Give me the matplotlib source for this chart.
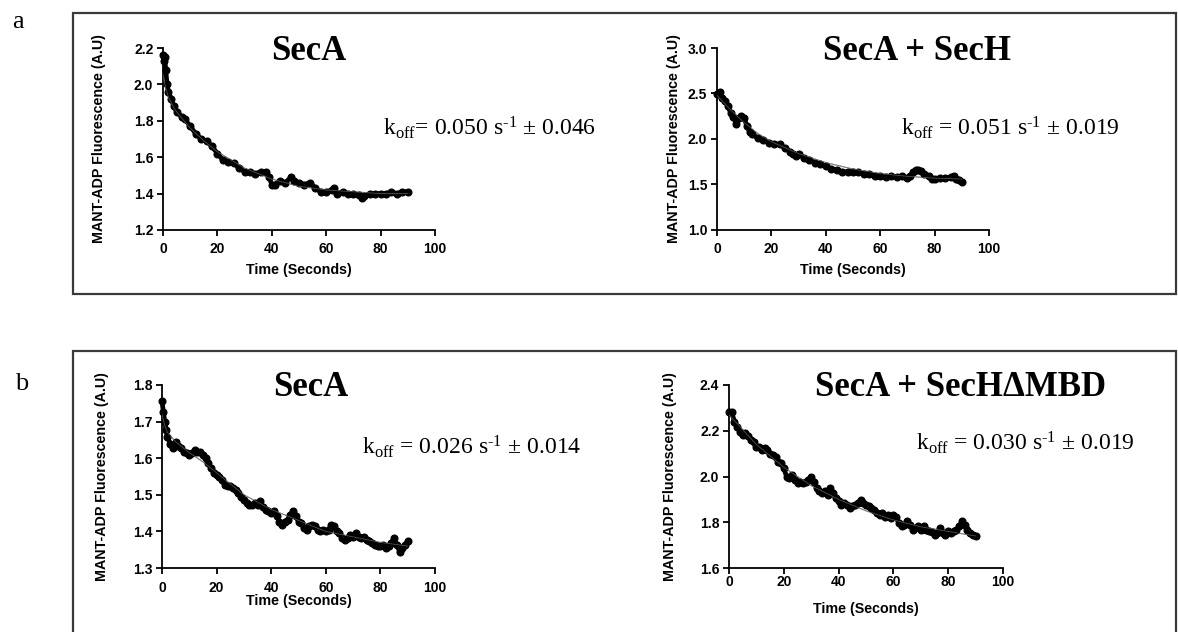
import matplotlib.pyplot as plt
from matplotlib.patches import Rectangle

plt.rcParams['mathtext.fontset'] = 'custom'
plt.rcParams['mathtext.rm'] = 'Liberation Serif'
plt.rcParams['mathtext.it'] = 'Liberation Serif:italic'

W, H = 1178, 632

# --- panel a: SecA alone
t_a1 = [0, 0.3, 0.6, 1, 1.5, 2, 3, 4, 5, 7, 8, 10, 12, 14, 16, 18, 20, 22, 24, 26,
        28, 30, 32, 34, 36, 38, 39, 40, 41, 43, 45, 47, 48, 50, 52, 54, 56, 58, 60,
        62, 63, 64, 66, 68, 70, 72, 73, 74, 76, 78, 80, 82, 84, 86, 88, 90]
y_a1 = [2.16, 2.13, 2.15, 2.08, 2.00, 1.96, 1.92, 1.88, 1.85, 1.82, 1.81, 1.77, 1.73,
        1.70, 1.69, 1.66, 1.62, 1.585, 1.575, 1.57, 1.54, 1.52, 1.52, 1.51, 1.52, 1.52,
        1.49, 1.45, 1.45, 1.47, 1.46, 1.49, 1.47, 1.46, 1.45, 1.46, 1.43, 1.41, 1.41,
        1.42, 1.43, 1.40, 1.41, 1.40, 1.40, 1.39, 1.375, 1.385, 1.40, 1.40, 1.40, 1.40,
        1.41, 1.40, 1.41, 1.41]
fit_t_a1 = [0, 1, 2, 4, 6, 10, 15, 20, 30, 40, 50, 60, 70, 80, 90]
fit_y_a1 = [2.05, 1.98, 1.93, 1.87, 1.83, 1.76, 1.69, 1.63, 1.54, 1.48, 1.44, 1.42, 1.41, 1.40, 1.40]

# --- panel a: SecA + SecH
t_a2 = [0, 1, 2, 3, 4, 5, 6, 7, 8, 9, 10, 11, 12, 13, 15, 17, 19, 21, 23, 25, 27, 28,
        29, 30, 32, 34, 36, 38, 40, 42, 44, 46, 48, 50, 52, 54, 56, 58, 60, 62, 64, 66,
        68, 70, 71, 72, 73, 74, 75, 76, 78, 79, 80, 82, 84, 86, 87, 88, 89, 90]
y_a2 = [2.49, 2.52, 2.45, 2.42, 2.36, 2.29, 2.24, 2.17, 2.23, 2.25, 2.23, 2.14, 2.08,
        2.05, 2.01, 1.99, 1.96, 1.95, 1.94, 1.90, 1.86, 1.83, 1.81, 1.84, 1.79, 1.77,
        1.74, 1.72, 1.70, 1.67, 1.66, 1.64, 1.64, 1.64, 1.64, 1.61, 1.61, 1.59, 1.59,
        1.58, 1.59, 1.58, 1.59, 1.57, 1.59, 1.64, 1.66, 1.66, 1.65, 1.62, 1.59, 1.56,
        1.56, 1.57, 1.57, 1.58, 1.59, 1.56, 1.55, 1.53]
fit_t_a2 = [0, 5, 10, 15, 20, 30, 40, 50, 60, 70, 80, 90]
fit_y_a2 = [2.48, 2.32, 2.18, 2.06, 1.97, 1.84, 1.74, 1.67, 1.62, 1.59, 1.57, 1.56]

# --- panel b: SecA alone
t_b1 = [0, 0.5, 1, 1.5, 2] + list(range(3, 91))
y_b1 = [1.755, 1.727, 1.70, 1.677, 1.659,
        1.64, 1.627, 1.645, 1.632, 1.627, 1.618, 1.614, 1.609, 1.614, 1.623,
        1.618, 1.618, 1.609, 1.60, 1.586, 1.573, 1.559, 1.555, 1.55, 1.541,
        1.527, 1.523, 1.523, 1.518, 1.514, 1.505, 1.495, 1.486, 1.477, 1.473,
        1.473, 1.477, 1.473, 1.482, 1.468, 1.459, 1.455, 1.45, 1.455, 1.441,
        1.427, 1.418, 1.427, 1.432, 1.445, 1.455, 1.441, 1.427, 1.423, 1.409,
        1.405, 1.414, 1.418, 1.414, 1.405, 1.40, 1.405, 1.40, 1.405, 1.418,
        1.414, 1.40, 1.395, 1.382, 1.377, 1.382, 1.391, 1.386, 1.395, 1.386,
        1.382, 1.386, 1.377, 1.373, 1.368, 1.364, 1.359, 1.359, 1.364, 1.355,
        1.359, 1.368, 1.382, 1.364, 1.345, 1.355, 1.364, 1.373]
fit_t_b1 = [0, 1, 2, 5, 10, 15, 20, 30, 40, 50, 60, 70, 80, 90]
fit_y_b1 = [1.72, 1.69, 1.67, 1.645, 1.615, 1.59, 1.56, 1.50, 1.46, 1.43, 1.40, 1.385, 1.37, 1.36]

# --- panel b: SecA + SecH(dMBD)
t_b2 = list(range(0, 91))
y_b2 = [2.284, 2.28, 2.24, 2.218, 2.196, 2.182, 2.189, 2.175, 2.16, 2.153,
        2.131, 2.131, 2.116, 2.124, 2.116, 2.10, 2.095, 2.087, 2.065, 2.058,
        2.036, 2.0, 1.993, 2.007, 1.985, 1.971, 1.978, 1.971, 1.978, 1.985,
        2.0, 1.978, 1.949, 1.935, 1.927, 1.935, 1.92, 1.949, 1.927, 1.905,
        1.891, 1.876, 1.884, 1.876, 1.862, 1.869, 1.876, 1.884, 1.898, 1.884,
        1.876, 1.869, 1.862, 1.855, 1.84, 1.833, 1.84, 1.825, 1.833, 1.818,
        1.833, 1.825, 1.796, 1.782, 1.789, 1.804, 1.789, 1.767, 1.775, 1.782,
        1.767, 1.782, 1.767, 1.76, 1.756, 1.745, 1.753, 1.775, 1.753, 1.745,
        1.76, 1.753, 1.76, 1.767, 1.782, 1.804, 1.789, 1.767, 1.753, 1.745,
        1.738]
fit_t_b2 = [0, 10, 20, 30, 40, 50, 60, 70, 80, 90]
fit_y_b2 = [2.27, 2.14, 2.04, 1.96, 1.90, 1.85, 1.81, 1.78, 1.76, 1.74]

titles = ['SecA', 'SecA + SecH', 'SecA', 'SecA + SecH\u0394MBD']
sup = r's$^{\mathrm{\u2010}\mathrm{1}}$'
koff_text = [r'k$_{\mathrm{off}}$= 0.050 ' + sup + ' \u00b1 0.046',
             r'k$_{\mathrm{off}}$ = 0.051 ' + sup + ' \u00b1 0.019',
             r'k$_{\mathrm{off}}$ = 0.026 ' + sup + ' \u00b1 0.014',
             r'k$_{\mathrm{off}}$ = 0.030 ' + sup + ' \u00b1 0.019']
koff_text = [s.replace('\\u2010', '\u2010') for s in koff_text]
y_ticks = [[1.2, 1.4, 1.6, 1.8, 2.0, 2.2],
           [1.0, 1.5, 2.0, 2.5, 3.0],
           [1.3, 1.4, 1.5, 1.6, 1.7, 1.8],
           [1.6, 1.8, 2.0, 2.2, 2.4]]

series = [(t_a1, y_a1, fit_t_a1, fit_y_a1),
          (t_a2, y_a2, fit_t_a2, fit_y_a2),
          (t_b1, y_b1, fit_t_b1, fit_y_b1),
          (t_b2, y_b2, fit_t_b2, fit_y_b2)]

# axes rectangles in pixels: x at t=0, x at t=100, y at top tick, y at bottom tick
boxes_px = [(163, 435, 48, 230), (717, 989, 48, 230),
            (162, 435, 385, 568), (729, 1003, 385, 568)]
ylabel_x = [-0.21, -0.132, -0.195, -0.19]
xlabel_y = [-0.18, -0.18, -0.143, -0.186]
xtick_pad = [5, 5, 5, 1]
title_px = [(309, 51), (917, 51), (311, 388), (961, 388)]
koff_px = [(490, 128), (1010, 128), (472, 447), (1025, 443)]

fig = plt.figure(figsize=(W / 100, H / 100), dpi=100)
fig.patch.set_facecolor('white')

# panel frames
for top, bottom in [(13, 294), (351, 640)]:
    fig.patches.append(Rectangle((73 / W, 1 - bottom / H), (1176 - 73) / W,
                                 (bottom - top) / H, transform=fig.transFigure,
                                 fill=False, edgecolor='#3a3a3a', linewidth=1.6))

fig.text(18 / W, 1 - 22 / H, 'a', family='Liberation Serif', fontsize=19,
         ha='center', va='center')
fig.text(22 / W, 1 - 384 / H, 'b', family='Liberation Serif', fontsize=19,
         ha='center', va='center')

for i, (t, y, ft, fy) in enumerate(series):
    x0, x1, ytop, ybot = boxes_px[i]
    ax = fig.add_axes([x0 / W, 1 - ybot / H, (x1 - x0) / W, (ybot - ytop) / H])
    ax.plot(ft, fy, color='#777777', lw=0.8, zorder=1)
    ax.plot(t, y, color='black', lw=3.4, marker='o', ms=4.8, zorder=2, clip_on=False)
    ax.plot(ft, fy, color='#888888', lw=0.6, alpha=0.6, zorder=3)

    ax.set_xlim(0, 100)
    ax.set_ylim(y_ticks[i][0], y_ticks[i][-1])
    ax.set_xticks([0, 20, 40, 60, 80, 100])
    ax.set_yticks(y_ticks[i])
    ax.set_yticklabels(['{:.1f}'.format(v) for v in y_ticks[i]])
    for lab in ax.get_xticklabels() + ax.get_yticklabels():
        lab.set_fontweight('bold')
        lab.set_family('Liberation Sans')
    ax.tick_params(direction='out', length=4, width=1.3, labelsize=10)
    ax.tick_params(axis='x', pad=xtick_pad[i])
    ax.tick_params(axis='y', pad=3)
    for side in ['top', 'right']:
        ax.spines[side].set_visible(False)
    for side in ['left', 'bottom']:
        ax.spines[side].set_linewidth(1.3)

    ax.set_xlabel('Time (Seconds)', fontsize=10.3, fontweight='bold',
                  family='Liberation Sans')
    ax.set_ylabel('MANT-ADP Fluorescence (A.U)', fontsize=10.3, fontweight='bold',
                  family='Liberation Sans')
    ax.yaxis.set_label_coords(ylabel_x[i], 0.5)
    ax.xaxis.set_label_coords(0.5, xlabel_y[i])

    tx, ty = title_px[i]
    fig.text(tx / W, 1 - ty / H, titles[i], family='Liberation Serif',
             fontweight='bold', fontsize=25, ha='center', va='center')
    kx, ky = koff_px[i]
    fig.text(kx / W, 1 - ky / H, koff_text[i], family='Liberation Serif',
             fontsize=17, ha='center', va='center')

fig.savefig('out.png', dpi=100, facecolor='white')
